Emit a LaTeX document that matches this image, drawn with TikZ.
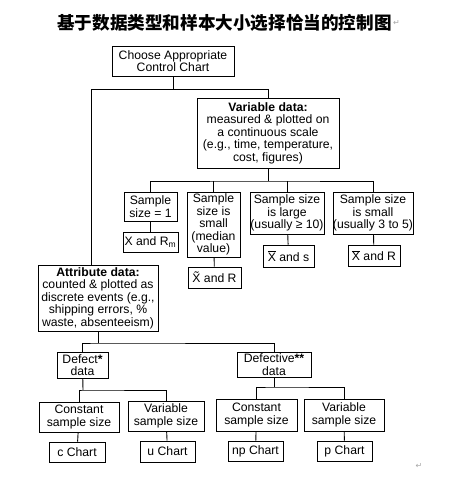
\documentclass[tikz,border=0pt]{standalone}
\usepackage{fontspec}
\setmainfont{Liberation Sans}
\newfontfamily\cjk{Noto Sans CJK SC}
\newfontfamily\symb{DejaVu Sans}
\tikzset{
  chartbox/.style={draw, line width=0.9pt, align=center, inner sep=0pt,
    font=\fontsize{12.2}{12.5}\selectfont},
  link/.style={line width=0.9pt},
  retmark/.style={text=gray!70, inner sep=0pt, font=\symb\fontsize{8}{8}\selectfont}
}
\newcommand{\xbar}{$\overline{\mbox{X}}$}
\newcommand{\xtil}{X^^^^0303}

\begin{document}
\begin{tikzpicture}[x=1pt,y=-1pt]
\useasboundingbox (0,0) rectangle (451,482);

\node[inner sep=0pt] (title) at (224.5,23) {\cjk\bfseries\fontsize{17.6}{18}\selectfont 基于数据类型和样本大小选择恰当的控制图};
\node[retmark, anchor=west] (ret1) at ([xshift=1]title.east) {↵};

%%% top
\node[chartbox, minimum width=122, minimum height=30] (choose) at (173,61) {Choose Appropriate\\Control Chart};

\node[chartbox, minimum width=142, minimum height=70] (var) at (268,133) {\textbf{Variable data:}\\measured \& plotted on\\a continuous scale\\(e.g., time, temperature,\\cost, figures)};

\coordinate (j1) at (173,89);
\coordinate (aleft) at (91,89);
\draw[link] (choose) -- (j1);
\draw[link] (var.north) |- (aleft);

%%% variable data
\node[chartbox, minimum width=53, minimum height=29] (s1) at (150.5,206.5) {Sample\\size = 1};
\node[chartbox, minimum width=53, minimum height=65] (med) at (213.5,224.5) {Sample\\size is\\small\\(median\\value)};
\node[chartbox, minimum width=74, minimum height=42] (large) at (287,213) {Sample size\\is large\\(usually ≥ 10)};
\node[chartbox, minimum width=78, minimum height=42] (small) at (373,213) {Sample size\\is small\\(usually 3 to 5)};

\node[chartbox, minimum width=55, minimum height=20] (xrm) at (150.5,242) {X and R\textsubscript{m}};
\node[chartbox, minimum width=53, minimum height=21] (xtr) at (214.5,277.5) {\xtil\ and R};
\node[chartbox, minimum width=51, minimum height=22] (xs) at (288.5,256) {\xbar\ and s};
\node[chartbox, minimum width=52, minimum height=21] (xr) at (374,255.5) {\xbar\ and R};

\coordinate (j2) at (268,181);
\draw[link] (var) -- (j2);
\draw[link] (s1.north) |- (j2) -| (small.north);
\draw[link] (med.north) -- (med.north |- j2);
\draw[link] (large.north) -- (large.north |- j2);

\draw[link] (s1) -- (xrm);
\draw[link] (med) -- (xtr);
\draw[link] (large) -- (xs);
\draw[link] (small) -- (xr);

%%% attribute data
\node[chartbox, minimum width=120, minimum height=66] (attr) at (98,298) {\textbf{Attribute data:}\\counted \& plotted as\\discrete events (e.g.,\\shipping errors, \%\\waste, absenteeism)};
\draw[link] (aleft) -- (aleft |- attr.north);

\node[chartbox, minimum width=51, minimum height=26] (defect) at (82.5,365) {Defect\textbf{*}\\data};
\node[chartbox, minimum width=74, minimum height=25] (defective) at (274,364.5) {Defective\textbf{**}\\data};

\coordinate (j3) at (98,343);
\draw[link] (attr) -- (j3);
\draw[link] (defect.north) |- (j3) -| (defective.north);

\node[chartbox, minimum width=80, minimum height=30] (cs1) at (79,417) {Constant\\sample size};
\node[chartbox, minimum width=76, minimum height=30] (vs1) at (166,416) {Variable\\sample size};
\node[chartbox, minimum width=81, minimum height=32] (cs2) at (256.5,415) {Constant\\sample size};
\node[chartbox, minimum width=80, minimum height=32] (vs2) at (344,415) {Variable\\sample size};

\coordinate (j4) at (83,390);
\coordinate (j5) at (274,387);
\draw[link] (defect) -- (j4);
\draw[link] (cs1.north) |- (j4) -| (vs1.north);
\draw[link] (defective) -- (j5);
\draw[link] (cs2.north) |- (j5) -| (vs2.north);

\node[chartbox, minimum width=56, minimum height=20] (cchart) at (77,452) {c Chart};
\node[chartbox, minimum width=55, minimum height=21] (uchart) at (167.5,451.5) {u Chart};
\node[chartbox, minimum width=55, minimum height=20] (npchart) at (255.5,451) {np Chart};
\node[chartbox, minimum width=55, minimum height=20] (pchart) at (344.5,451) {p Chart};

\draw[link] (cs1) -- (cchart);
\draw[link] (vs1) -- (uchart);
\draw[link] (cs2) -- (npchart);
\draw[link] (vs2) -- (pchart);

\node[retmark] (ret2) at (419,466) {↵};

\end{tikzpicture}
\end{document}
